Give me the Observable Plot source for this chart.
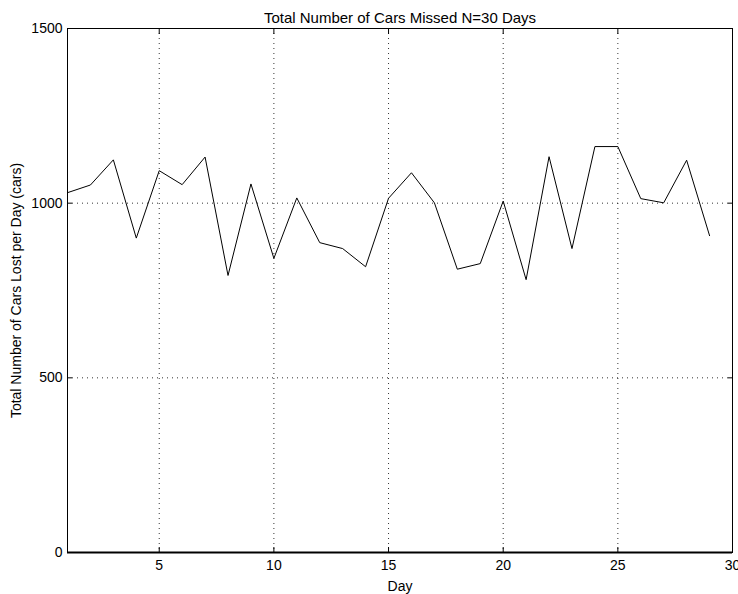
<!DOCTYPE html>
<html>
<head>
<meta charset="utf-8">
<script src="https://cdn.jsdelivr.net/npm/d3@7"></script>
<script src="https://cdn.jsdelivr.net/npm/@observablehq/plot@0.6"></script>
<style>
  html, body { margin: 0; padding: 0; background: #fff; }
  svg { display: block; }
</style>
</head>
<body>
<div id="chart"></div>
<script>
const days = [1,2,3,4,5,6,7,8,9,10,11,12,13,14,15,16,17,18,19,20,21,22,23,24,25,26,27,28,29];
const carsLost = [1030,1052,1124,900,1093,1053,1132,793,1055,842,1015,887,870,818,1014,1087,1001,811,827,1006,781,1133,870,1162,1162,1013,1001,1123,907];
const xTicks = [5,10,15,20,25,30];
const yTicks = [0,500,1000,1500];
const gridX = [5,10,15,20,25];
const gridY = [500,1000];
const titleText = ["Total Number of Cars Missed N=30 Days"];

const data = days.map((d, i) => ({day: d, cars: carsLost[i]}));
const fs = 14;

const chart = Plot.plot({
  width: 738,
  height: 594,
  marginTop: 28,
  marginBottom: 42,
  marginLeft: 67,
  marginRight: 6,
  style: {fontFamily: "Liberation Sans, Arial, sans-serif", fontSize: fs + "px", color: "#000", background: "#fff"},
  x: {domain: [1, 30], label: null},
  y: {domain: [0, 1500], label: null},
  marks: [
    Plot.ruleX(gridX, {stroke: "#000", strokeWidth: 1, strokeDasharray: "1,4", strokeOpacity: 0.8}),
    Plot.ruleY(gridY, {stroke: "#000", strokeWidth: 1, strokeDasharray: "1,4", strokeOpacity: 0.8}),
    Plot.axisX(xTicks, {anchor: "bottom", tickSize: 0, tickPadding: 8, tickFormat: d3.format("d"), label: "Day", labelAnchor: "center", labelArrow: "none", labelOffset: 38, fontSize: fs}),
    Plot.axisX(xTicks, {anchor: "bottom", tickSize: -5, text: null, label: null}),
    Plot.axisX(xTicks, {anchor: "top", tickSize: -5, text: null, label: null}),
    Plot.axisY(yTicks, {anchor: "left", tickSize: 0, tickPadding: 5, tickFormat: d3.format("d"), label: "Total Number of Cars Lost per Day (cars)", labelAnchor: "center", labelArrow: "none", labelOffset: 56, fontSize: fs}),
    Plot.axisY(yTicks, {anchor: "left", tickSize: -5, text: null, label: null}),
    Plot.axisY(yTicks, {anchor: "right", tickSize: -5, text: null, label: null}),
    Plot.frame({stroke: "#000", strokeWidth: 1}),
    Plot.ruleY([0], {stroke: "#000", strokeWidth: 2}),
    Plot.line(data, {x: "day", y: "cars", stroke: "#000", strokeWidth: 1}),
    Plot.text(titleText, {frameAnchor: "top", dy: -16, fontSize: 15, fill: "#000"})
  ]
});
document.getElementById("chart").appendChild(chart);
</script>
</body>
</html>
